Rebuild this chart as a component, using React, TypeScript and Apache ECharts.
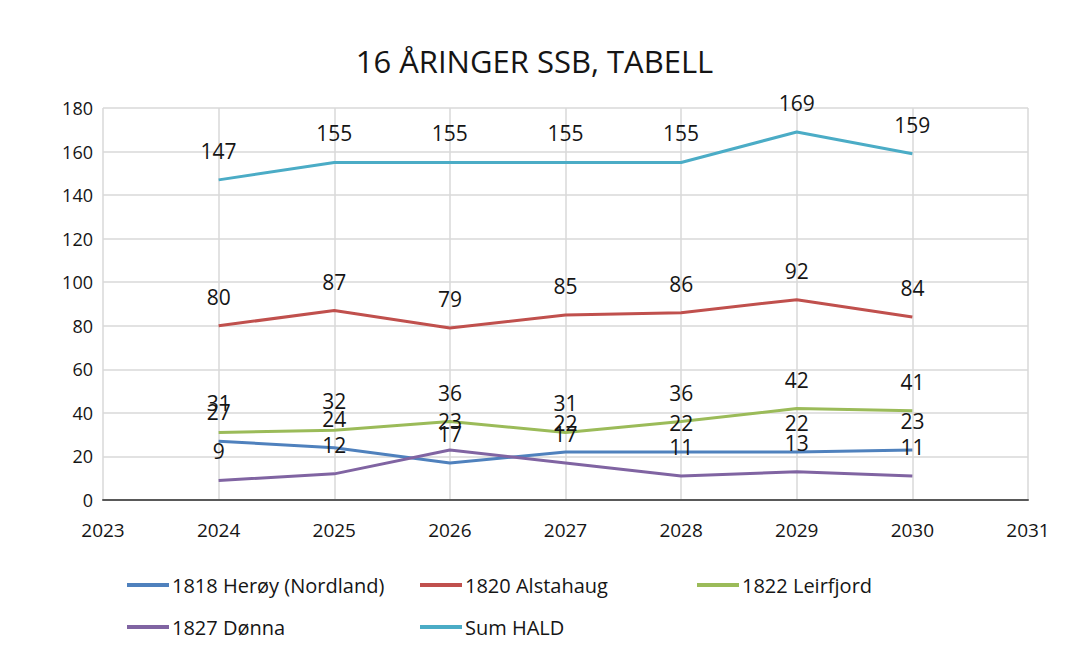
import React, { useEffect, useRef } from "react";
import * as echarts from "echarts";

const years = [2024, 2025, 2026, 2027, 2028, 2029, 2030];
const heroy = [27, 24, 17, 22, 22, 22, 23];
const alstahaug = [80, 87, 79, 85, 86, 92, 84];
const leirfjord = [31, 32, 36, 31, 36, 42, 41];
const donna = [9, 12, 23, 17, 11, 13, 11];
const sumHald = [147, 155, 155, 155, 155, 169, 159];

const seriesDefs = [
  { name: "1818 Herøy (Nordland)", data: heroy, color: "#4F81BD" },
  { name: "1820 Alstahaug", data: alstahaug, color: "#C0504D" },
  { name: "1822 Leirfjord", data: leirfjord, color: "#9BBB59" },
  { name: "1827 Dønna", data: donna, color: "#8064A2" },
  { name: "Sum HALD", data: sumHald, color: "#4BACC6" },
];

const FONT = "'Open Sans', 'Noto Sans', sans-serif";
const TEXT = "#151515";

export default function App() {
  const ref = useRef<HTMLDivElement>(null);
  useEffect(() => {
    if (!ref.current) return;
    const chart = echarts.init(ref.current, undefined, { renderer: "svg" });
    const legendPos = [
      { left: 122, top: 570 },
      { left: 415, top: 570 },
      { left: 692, top: 570 },
      { left: 122, top: 612 },
      { left: 415, top: 612 },
    ];
    chart.setOption({
      animation: false,
      backgroundColor: "#ffffff",
      textStyle: { fontFamily: FONT },
      title: {
        text: "16 ÅRINGER SSB, TABELL",
        left: "center",
        top: 40,
        textStyle: { fontFamily: FONT, fontSize: 31, fontWeight: "normal", color: TEXT },
      },
      legend: seriesDefs.map((s, i) => ({
        data: [{ name: s.name, itemStyle: { color: s.color, opacity: 1 } }],
        left: legendPos[i].left,
        top: legendPos[i].top,
        icon: "rect",
        itemWidth: 42,
        itemHeight: 4,
        itemGap: 0,
        itemStyle: { color: s.color, opacity: 1 },
        textStyle: { fontFamily: FONT, fontSize: 20, color: TEXT, padding: [0, 0, 0, -2] },
      })),
      grid: { left: 103, right: 41, top: 108, bottom: 150 },
      xAxis: {
        type: "value",
        min: 2023,
        max: 2031,
        interval: 1,
        axisLine: { show: true, lineStyle: { color: "#595959", width: 2 } },
        axisTick: { show: false },
        splitLine: { show: true, lineStyle: { color: "#d9d9d9", width: 1.5 } },
        axisLabel: {
          fontFamily: FONT,
          fontSize: 19,
          color: TEXT,
          margin: 20,
          formatter: (v: number) => String(v),
        },
      },
      yAxis: {
        type: "value",
        min: 0,
        max: 180,
        interval: 20,
        axisLine: { show: false },
        axisTick: { show: false },
        splitLine: { show: true, lineStyle: { color: "#d9d9d9", width: 1.5 } },
        axisLabel: { fontFamily: FONT, fontSize: 18, color: TEXT, margin: 10 },
      },
      series: seriesDefs.map((s) => ({
        name: s.name,
        type: "line",
        data: years.map((y, i) => [y, s.data[i]]),
        showSymbol: true,
        symbol: "circle",
        symbolSize: 1,
        lineStyle: { color: s.color, width: 3 },
        itemStyle: { color: s.color, opacity: 0 },
        label: {
          show: true,
          position: "top",
          distance: 18,
          fontFamily: FONT,
          fontSize: 21,
          color: TEXT,
          opacity: 1,
          formatter: (p: any) => String(p.value[1]),
        },
        labelLayout: { hideOverlap: false },
      })),
    });
    return () => chart.dispose();
  }, []);
  return (
    <div
      ref={ref}
      style={{ position: "absolute", left: 0, top: 0, width: 1069, height: 650 }}
    />
  );
}
